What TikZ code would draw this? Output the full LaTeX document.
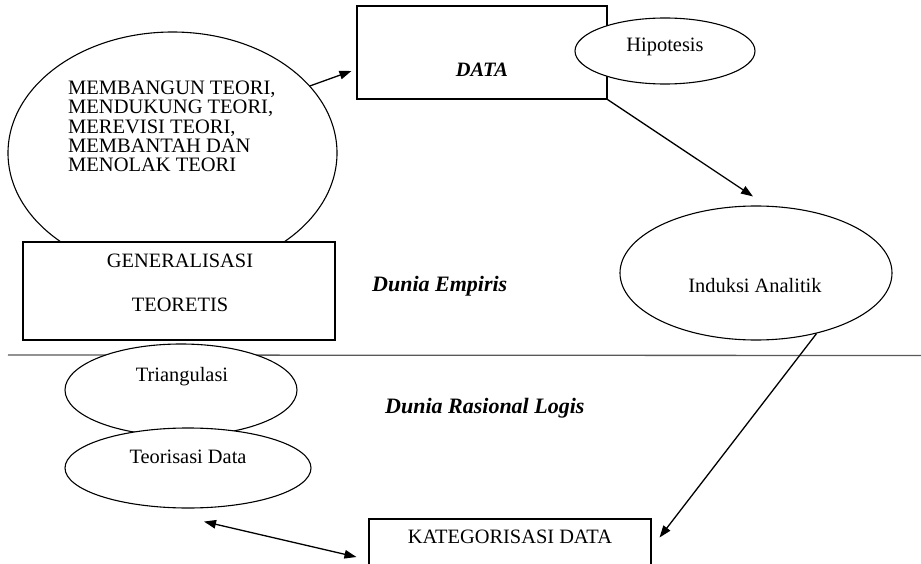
\documentclass[tikz,border=0pt]{standalone}
\usepackage{fontspec}
\setmainfont{Liberation Serif}
\usetikzlibrary{shapes.geometric,arrows.meta}

\tikzset{
  shape line/.style={draw=black, line width=1.1pt},
  oval/.style={shape line, ellipse, inner sep=0pt},
  framebox/.style={shape line, rectangle, inner sep=0pt},
  label text/.style={inner sep=0pt, font=\fontsize{20.4}{24}\selectfont},
  world text/.style={inner sep=0pt, font=\fontsize{22}{26}\selectfont\bfseries\itshape},
  arr/.style={line width=1.3pt, -{Triangle[length=12pt,width=8.5pt]}},
  darr/.style={line width=1.3pt, {Triangle[length=12pt,width=8.5pt]}-{Triangle[length=12pt,width=8.5pt]}}
}

\begin{document}
\begin{tikzpicture}[x=1pt, y=-1pt]
  \clip (0,0) rectangle (921,564);
  \fill[white] (0,0) rectangle (921,564);

  % divider between the empirical and the rational-logical world
  \coordinate (divL) at (8,355);
  \coordinate (divR) at (921,355.5);
  \draw[line width=1.3pt, black!65] (divL) -- (divR);

  % theory ellipse, partly covered by the generalisation box
  \node[oval, minimum width=329pt, minimum height=242pt] (theo) at (172.5,153) {};
  \node[label text, anchor=north west, align=left,
        font=\fontsize{20.5}{19.2}\selectfont] (theoText) at (68,81)
    {MEMBANGUN TEORI,\\MENDUKUNG TEORI,\\MEREVISI TEORI,\\MEMBANTAH DAN\\MENOLAK TEORI};

  \node[framebox, fill=white, minimum width=312pt, minimum height=98pt] (gen) at (179,291) {};
  \node[label text, anchor=base] (genA) at (180,267) {GENERALISASI};
  \node[label text, anchor=base] (genB) at (180,311) {TEORETIS};

  % data box with the hypothesis ellipse on its corner
  \node[framebox, minimum width=250pt, minimum height=93pt] (data) at (482,52.5) {};
  \node[inner sep=0pt, anchor=base, font=\fontsize{20.4}{24}\selectfont\bfseries\itshape] (dataText) at (482,77) {DATA};

  \node[oval, fill=white, minimum width=180pt, minimum height=66pt] (hip) at (665,51) {};
  \node[label text, anchor=base] (hipText) at (665,52) {Hipotesis};

  % analytic induction
  \node[oval, minimum width=272pt, minimum height=134pt] (ind) at (756,273) {};
  \node[label text, anchor=base] (indText) at (755,292) {Induksi Analitik};

  % world labels
  \node[world text, anchor=base west] (empiris) at (372,291) {Dunia Empiris};
  \node[world text, anchor=base west] (rasional) at (385,413) {Dunia Rasional Logis};

  % triangulation and data theorisation
  \node[oval, fill=white, minimum width=232pt, minimum height=92pt] (tri) at (181,390) {};
  \node[label text, anchor=base] (triText) at (182,381) {Triangulasi};

  \node[oval, fill=white, minimum width=246pt, minimum height=80pt] (teo) at (188,468) {};
  \node[label text, anchor=base] (teoText) at (188,463) {Teorisasi Data};

  % data categorisation
  \node[framebox, minimum width=282pt, minimum height=50pt] (kat) at (510,544) {};
  \node[label text, anchor=base] (katText) at (510,543) {KATEGORISASI DATA};

  % connectors
  \draw[arr] (theo.26) -- ([shift={(-5,18.5)}]data.west);
  \draw[arr] (data.south east) -- ([shift={(-3,-9)}]ind.north);
  \draw[arr] (ind.-45.5) -- ([shift={(8,-6.5)}]kat.east);
  \draw[darr] ([shift={(16,13)}]teo.south) -- ([shift={(-12,13)}]kat.west);
\end{tikzpicture}
\end{document}
